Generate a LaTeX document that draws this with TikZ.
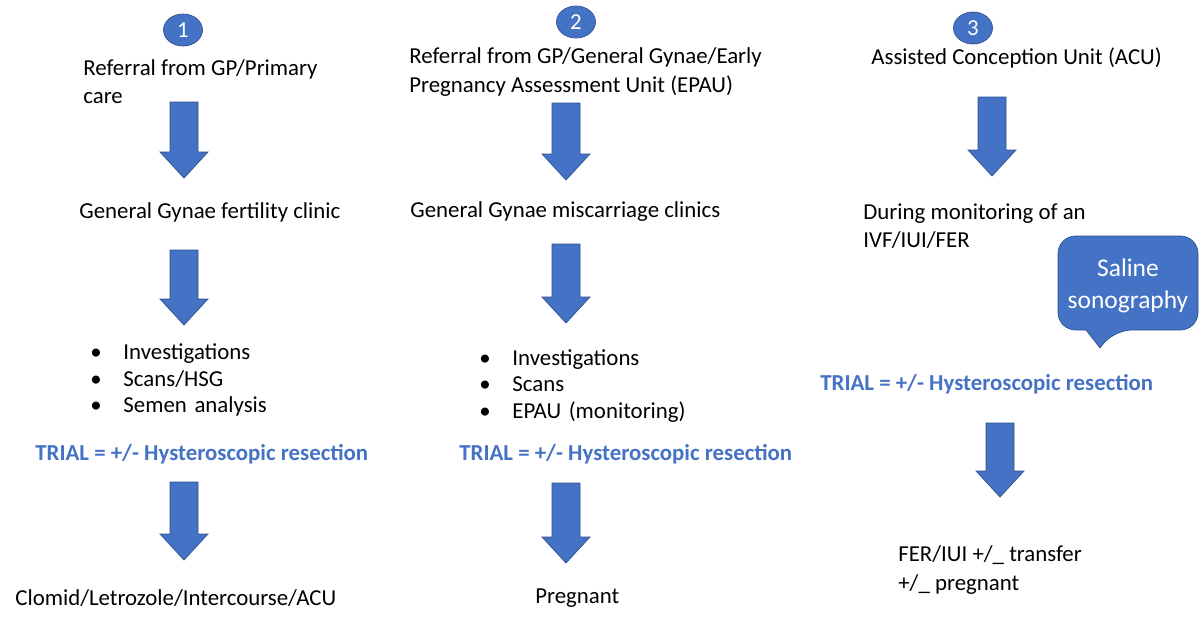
\documentclass[tikz,border=0pt]{standalone}
\usepackage{fontspec}
\setmainfont{Carlito}
\usepackage{xcolor}
\usetikzlibrary{positioning, shapes.geometric}
\definecolor{office}{HTML}{4472C4}
\definecolor{officedark}{HTML}{2F528F}
\newcommand{\blockarrow}[3]{%
  \fill[office, draw=officedark, line width=0.4pt]
    (#1-14,#2) -- (#1+14,#2) -- (#1+14,#3-26) -- (#1+24,#3-26) -- (#1,#3)
    -- (#1-24,#3-26) -- (#1-14,#3-26) -- cycle;}
\begin{document}
\begin{tikzpicture}[x=0.02cm, y=-0.02cm,
    every node/.style={font=\fontsize{13}{16}\selectfont},
    txt/.style={anchor=west, inner sep=0pt, align=left},
    trial/.style={txt, text=office, font=\fontsize{13}{16}\selectfont\bfseries},
    num/.style={ellipse, fill=office, draw=officedark, text=white, minimum width=0.78cm, minimum height=0.64cm, inner sep=0pt},
    bul/.style={txt, text width=6cm}]
  \useasboundingbox (0,0) rectangle (1200,626);
  % column 1
  \node[num] (n1) at (183,30) {1};
  \node[txt] (ref1) at (83,82) {Referral from GP/Primary\\care};
  \blockarrow{184}{102}{178}
  \node[txt] (clin1) at (79,212) {General Gynae fertility clinic};
  \blockarrow{184}{250}{325}
  \node[bul] (inv1) at (90,380) {\textbullet\hspace{0.95em}Investigations\\[-1pt]\textbullet\hspace{0.95em}Scans/HSG\\[-1pt]\textbullet\hspace{0.95em}Semen analysis};
  \node[trial] (tr1) at (35,454) {TRIAL = +/- Hysteroscopic resection};
  \blockarrow{184}{482}{560}
  \node[txt] (out1) at (15,598) {Clomid/Letrozole/Intercourse/ACU};
  % column 2
  \node[num] (n2) at (576,22) {2};
  \node[txt] (ref2) at (409,72) {Referral from GP/General Gynae/Early\\Pregnancy Assessment Unit (EPAU)};
  \blockarrow{566}{103}{180}
  \node[txt] (clin2) at (410,212) {General Gynae miscarriage clinics};
  \blockarrow{566}{244}{323}
  \node[bul] (inv2) at (479,386) {\textbullet\hspace{0.95em}Investigations\\[-1pt]\textbullet\hspace{0.95em}Scans\\[-1pt]\textbullet\hspace{0.95em}EPAU (monitoring)};
  \node[trial] (tr2) at (459,454) {TRIAL = +/- Hysteroscopic resection};
  \blockarrow{566}{483}{563}
  \node[txt] (out2) at (535,598) {Pregnant};
  % column 3
  \node[num] (n3) at (973,28) {3};
  \node[txt] (ref3) at (871,58) {Assisted Conception Unit (ACU)};
  \blockarrow{992}{97}{176}
  \node[txt] (clin3) at (863,226) {During monitoring of an\\IVF/IUI/FER};
  \fill[office, draw=officedark, line width=0.4pt, rounded corners=10]
    (1058,236) -- (1198,236) -- (1198,330) -- (1114,330) [sharp corners] -- (1100,348)
    -- (1086,330) [rounded corners=10] -- (1058,330) -- cycle;
  \node[align=center, text=white, inner sep=0pt, font=\fontsize{14.5}{18}\selectfont] (sal) at (1128,286) {Saline\\sonography};
  \node[trial] (tr3) at (820,384) {TRIAL = +/- Hysteroscopic resection};
  \blockarrow{1000}{423}{497}
  \node[txt] (out3) at (898,570) {FER/IUI +/\_ transfer\\+/\_ pregnant};
\end{tikzpicture}
\end{document}
